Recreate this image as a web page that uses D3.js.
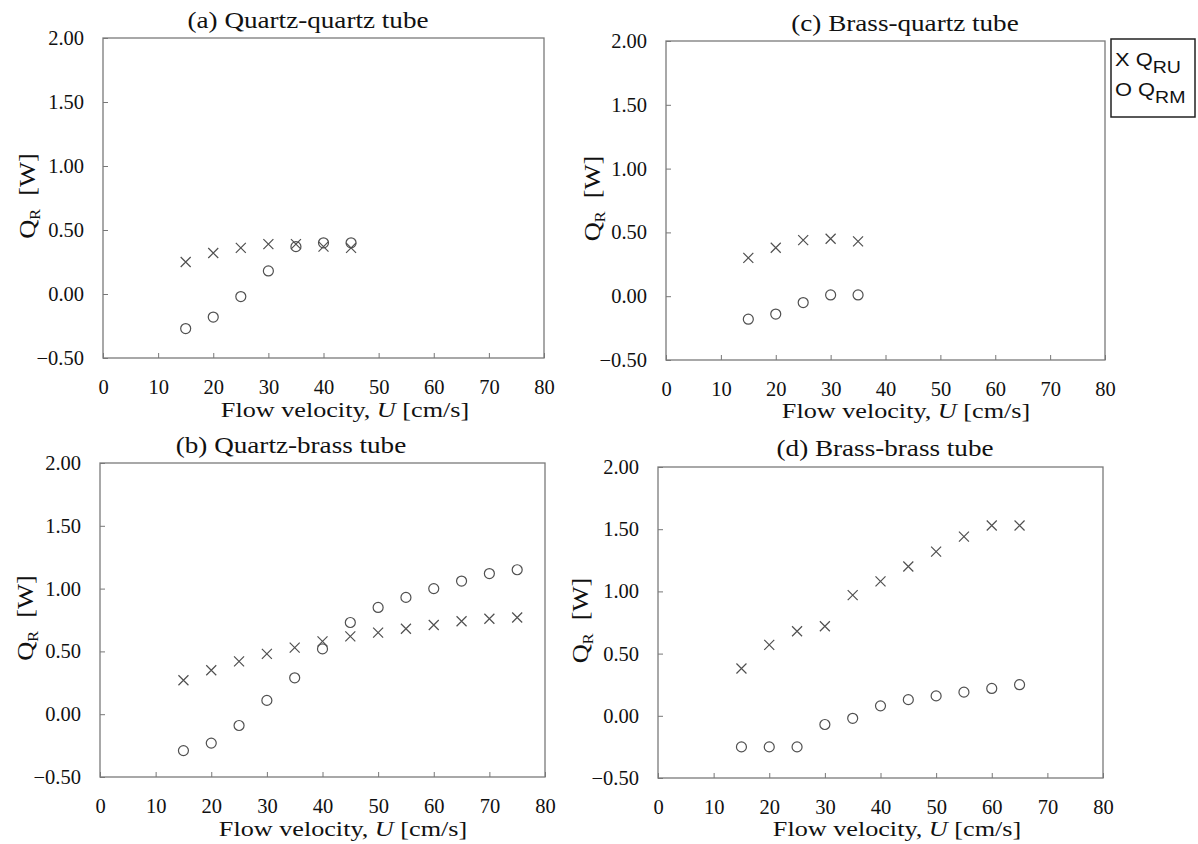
<!DOCTYPE html>
<html>
<head>
<meta charset="utf-8">
<script src="https://cdn.jsdelivr.net/npm/d3@7"></script>
<style>
  html, body { margin: 0; padding: 0; background: #fff; }
  svg { display: block; }
</style>
</head>
<body>
<svg id="chart" width="1198" height="844"></svg>
<script>
// ---------------- data ----------------
const xTickValues = [0, 10, 20, 30, 40, 50, 60, 70, 80];
const yTickValues = [-0.5, 0, 0.5, 1.0, 1.5, 2.0];

const panelTitles = ["(a) Quartz-quartz tube", "(b) Quartz-brass tube", "(c) Brass-quartz tube", "(d) Brass-brass tube"];

const velocityA = [15, 20, 25, 30, 35, 40, 45];
const qruA = [0.25, 0.32, 0.36, 0.39, 0.39, 0.37, 0.36];
const qrmA = [-0.27, -0.18, -0.02, 0.18, 0.37, 0.40, 0.40];

const velocityB = [15, 20, 25, 30, 35, 40, 45, 50, 55, 60, 65, 70, 75];
const qruB = [0.27, 0.35, 0.42, 0.48, 0.53, 0.58, 0.62, 0.65, 0.68, 0.71, 0.74, 0.76, 0.77];
const qrmB = [-0.29, -0.23, -0.09, 0.11, 0.29, 0.52, 0.73, 0.85, 0.93, 1.00, 1.06, 1.12, 1.15];

const velocityC = [15, 20, 25, 30, 35];
const qruC = [0.30, 0.38, 0.44, 0.45, 0.43];
const qrmC = [-0.18, -0.14, -0.05, 0.01, 0.01];

const velocityD = [15, 20, 25, 30, 35, 40, 45, 50, 55, 60, 65];
const qruD = [0.38, 0.57, 0.68, 0.72, 0.97, 1.08, 1.20, 1.32, 1.44, 1.53, 1.53];
const qrmD = [-0.25, -0.25, -0.25, -0.07, -0.02, 0.08, 0.13, 0.16, 0.19, 0.22, 0.25];

const legendLabels = [["X Q", "RU"], ["O Q", "RM"]];
const xTitle = "Flow velocity, ";
const yTitle = "Q";

// ---------------- layout ----------------
const panels = [
  { title: panelTitles[0], x: velocityA, ru: qruA, rm: qrmA,
    box: { l: 103, r: 544, t: 38, b: 358 }, titleX: 308, titleY: 28, xTitleX: 345, xTitleY: 417, yTitleX: 35 },
  { title: panelTitles[1], x: velocityB, ru: qruB, rm: qrmB,
    box: { l: 100, r: 545, t: 463, b: 777 }, titleX: 291, titleY: 453, xTitleX: 343, xTitleY: 836, yTitleX: 33 },
  { title: panelTitles[2], x: velocityC, ru: qruC, rm: qrmC,
    box: { l: 666, r: 1105, t: 41, b: 360 }, titleX: 905, titleY: 31, xTitleX: 906, xTitleY: 418, yTitleX: 600 },
  { title: panelTitles[3], x: velocityD, ru: qruD, rm: qrmD,
    box: { l: 658, r: 1103, t: 467, b: 778 }, titleX: 885, titleY: 456, xTitleX: 897, xTitleY: 836, yTitleX: 588 }
];

const svg = d3.select("#chart");
const serif = "Liberation Serif";
const markColor = "#505050";

function styleAxis(sel) {
  sel.attr("font-family", serif).attr("font-size", 20.5);
  sel.select(".domain").remove();
  sel.selectAll("line").attr("stroke", "#777");
  sel.selectAll("text").attr("font-family", serif).style("font-family", serif)
    .style("font-size", "20.5px").attr("fill", "#111");
}

panels.forEach(p => {
  const b = p.box;
  const xs = d3.scaleLinear().domain([0, 80]).range([b.l, b.r]);
  const ys = d3.scaleLinear().domain([-0.5, 2.0]).range([b.b, b.t]);
  const g = svg.append("g");

  // x axis
  const xa = g.append("g").attr("transform", `translate(0,${b.b})`)
    .call(d3.axisBottom(xs).tickValues(xTickValues).tickFormat(d3.format("d"))
      .tickSizeInner(-5).tickSizeOuter(0).tickPadding(21));
  styleAxis(xa);

  // y axis
  const ya = g.append("g").attr("transform", `translate(${b.l},0)`)
    .call(d3.axisLeft(ys).tickValues(yTickValues).tickFormat(d3.format(".2f"))
      .tickSizeInner(-5).tickSizeOuter(0).tickPadding(19));
  styleAxis(ya);

  // frame
  g.append("rect").attr("x", b.l).attr("y", b.t).attr("width", b.r - b.l).attr("height", b.b - b.t)
    .attr("fill", "none").attr("stroke", "#7a7a7a").attr("stroke-width", 1.3);

  // title
  g.append("text").attr("transform", `translate(${p.titleX},${p.titleY}) scale(1.18,1)`)
    .attr("text-anchor", "middle").attr("fill", "#111")
    .style("font-family", serif).style("font-size", "23px").text(p.title);

  // x title
  const xt = g.append("text").attr("transform", `translate(${p.xTitleX},${p.xTitleY}) scale(1.19,1)`)
    .attr("text-anchor", "middle").attr("fill", "#111")
    .style("font-family", serif).style("font-size", "22px");
  xt.append("tspan").text(xTitle);
  xt.append("tspan").style("font-style", "italic").text("U");
  xt.append("tspan").text(" [cm/s]");

  // y title
  const cy = (b.t + b.b) / 2 - 2;
  const yt = g.append("text").attr("transform", `translate(${p.yTitleX},${cy}) rotate(-90) scale(1.15,1)`)
    .attr("text-anchor", "middle").attr("fill", "#111")
    .style("font-family", serif).style("font-size", "23px");
  yt.append("tspan").text(yTitle);
  yt.append("tspan").attr("dy", 5).style("font-size", "14px").text("R");
  yt.append("tspan").attr("dy", -5).text("\u00a0\u00a0[W]");

  // crosses (Q_RU)
  const s = 5;
  g.append("g").selectAll("path").data(p.x.map((v, i) => [v, p.ru[i]])).join("path")
    .attr("d", d => {
      const cx = xs(d[0]), cyy = ys(d[1]);
      return `M${cx - s},${cyy - s}L${cx + s},${cyy + s}M${cx - s},${cyy + s}L${cx + s},${cyy - s}`;
    })
    .attr("stroke", markColor).attr("stroke-width", 1.2).attr("fill", "none");

  // circles (Q_RM)
  g.append("g").selectAll("circle").data(p.x.map((v, i) => [v, p.rm[i]])).join("circle")
    .attr("cx", d => xs(d[0])).attr("cy", d => ys(d[1])).attr("r", 5)
    .attr("stroke", markColor).attr("stroke-width", 1.2).attr("fill", "none");
});

// legend
const lg = svg.append("g");
lg.append("rect").attr("x", 1111).attr("y", 39).attr("width", 84).attr("height", 78)
  .attr("fill", "#fff").attr("stroke", "#222").attr("stroke-width", 1.5);
legendLabels.forEach((lab, i) => {
  const t = lg.append("text").attr("transform", `translate(1115,${66 + i * 30}) scale(1.15,1)`)
    .style("font-family", "Liberation Sans").style("font-size", "19px").attr("fill", "#111");
  t.append("tspan").text(lab[0]);
  t.append("tspan").attr("dy", 7).style("font-size", "17px").text(lab[1]);
});
</script>
</body>
</html>
